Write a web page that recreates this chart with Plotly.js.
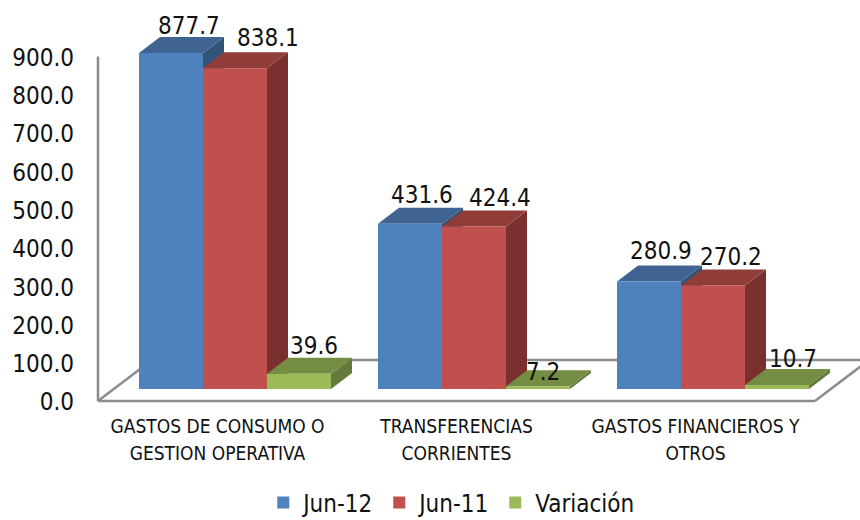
<!DOCTYPE html>
<html>
<head>
<meta charset="utf-8">
<script src="https://cdn.plot.ly/plotly-3.0.1.min.js"></script>
<style>html,body{margin:0;padding:0;background:#fff}#chart{width:860px;height:520px}</style>
</head>
<body>
<div id="chart"></div>
<script>
// Data
const categories = ["GASTOS DE CONSUMO O<br>GESTION OPERATIVA", "TRANSFERENCIAS<br>CORRIENTES", "GASTOS FINANCIEROS Y<br>OTROS"];
const jun12 = [877.7, 431.6, 280.9];
const jun11 = [838.1, 424.4, 270.2];
const variacion = [39.6, 7.2, 10.7];
const yTicks = [0, 100, 200, 300, 400, 500, 600, 700, 800, 900];

// Label nudges in pixels (hand-placed in the reference)
const labelDx = [[18, 12, 12], [33, 26, 18], [15, 5, 16]];
const labelDy = [[27, 29, 30], [30, 29, 29], [28, 14, 26]];

// Scale and geometry
const pxPerUnit = 0.3828, pxPerCat = 239;
const plotH = 404, plotW = 764, axisPad = 3;
const barW = 64 / pxPerCat, groupShift = 17.5 / pxPerCat;
const depthX = 21 / pxPerCat, depthY = 16 / pxPerUnit;
const floorLift = 12 / pxPerUnit;
const xMin = -0.5 - 2 / pxPerCat, xMax = xMin + plotW / pxPerCat;
const yMin = -axisPad / pxPerUnit, yMax = (plotH - axisPad) / pxPerUnit;

const names = ["Jun-12", "Jun-11", "Variación"];
const values = [jun12, jun11, variacion];
const front = ["#4F81BD", "#C0504D", "#9BBB59"];
const topC = ["#3F6492", "#903C39", "#748D43"];
const sideC = ["#335479", "#7A302E", "#657A3A"];
const xs = categories.map((_, i) => i);
const offsetOf = k => groupShift + (k - 1.5) * barW;
const textFont = "DejaVu Sans Condensed, DejaVu Sans";

const traces = [];
values.forEach((vals, k) => {
  traces.push({
    type: "bar", name: names[k], x: xs, y: vals, yaxis: "y2",
    width: barW, offset: offsetOf(k),
    marker: {color: front[k], line: {width: 0}}, hoverinfo: "name+y"
  });
});
function face(px, py, color) {
  return {type: "scatter", mode: "lines", x: px, y: py, fill: "toself", fillcolor: color,
          line: {width: 0, color: color}, showlegend: false, hoverinfo: "skip", yaxis: "y"};
}
values.forEach((vals, k) => {
  vals.forEach((v, i) => {
    const x0 = i + offsetOf(k), x1 = x0 + barW, t = v + floorLift, b = floorLift;
    traces.push(face([x1, x1 + depthX, x1 + depthX, x1, x1], [t, t + depthY, b + depthY, b, t], sideC[k]));
    traces.push(face([x0, x1, x1 + depthX, x0 + depthX, x0], [t, t, t + depthY, t + depthY, t], topC[k]));
  });
});

const annotations = [];
values.forEach((vals, k) => {
  vals.forEach((v, i) => {
    annotations.push({
      x: i + offsetOf(k) + barW / 2, y: v, xref: "x", yref: "y2",
      xshift: labelDx[k][i], yshift: labelDy[k][i], showarrow: false,
      text: v.toFixed(1), xanchor: "center", yanchor: "middle",
      font: {family: textFont, size: 24, color: "#111"}
    });
  });
});

// Chart frame: wall edge, floor outline
const frameColor = "#8C8C8C";
const floorDepthX = 54 / pxPerCat, floorDepthY = 41 / pxPerUnit, xLeft = -0.5, xRight = 2.5;
const seg = (x0, y0, x1, y1) => ({type: "line", xref: "x", yref: "y", x0, y0, x1, y1, layer: "below",
  line: {color: frameColor, width: 2.5}});
const shapes = [
  seg(xLeft, 0, xLeft, 900),
  seg(xLeft, 0, xRight, 0),
  seg(xRight, 0, xRight + floorDepthX, floorDepthY),
  seg(xLeft, 0, xLeft + floorDepthX, floorDepthY),
  seg(xLeft + floorDepthX, floorDepthY, xRight + floorDepthX, floorDepthY)
];

const layout = {
  width: 860, height: 520, paper_bgcolor: "#fff", plot_bgcolor: "#fff",
  margin: {l: 96, r: 0, t: 0, b: 520 - plotH, pad: 0, autoexpand: false},
  barmode: "overlay", showlegend: true,
  font: {family: textFont, color: "#111"},
  xaxis: {
    type: "linear", range: [xMin, xMax], tickmode: "array", tickvals: xs,
    ticktext: categories.map(c => '<span style="font-size:19px">' + c + '</span>'),
    tickfont: {family: textFont, size: 21, color: "#111"},
    showgrid: false, zeroline: false, showline: false, ticks: "", ticklabelstandoff: 7, fixedrange: true
  },
  yaxis: {
    range: [yMin, yMax], tickmode: "array", tickvals: yTicks,
    tickformat: ".1f", tickfont: {family: textFont, size: 24, color: "#111"},
    showgrid: false, zeroline: false, showline: false, ticks: "", ticklabelstandoff: 21, ticklabelshift: 1, fixedrange: true
  },
  yaxis2: {
    range: [-(plotH - 389) / pxPerUnit, 389 / pxPerUnit], overlaying: "y", visible: false, fixedrange: true
  },
  legend: {
    orientation: "h", x: 0.465, xanchor: "center", y: (plotH - 503) / plotH, yanchor: "middle",
    font: {family: textFont, size: 24, color: "#111"}, bgcolor: "rgba(0,0,0,0)"
  },
  shapes, annotations
};
Plotly.newPlot("chart", traces, layout, {displayModeBar: false, responsive: false});
</script>
</body>
</html>
